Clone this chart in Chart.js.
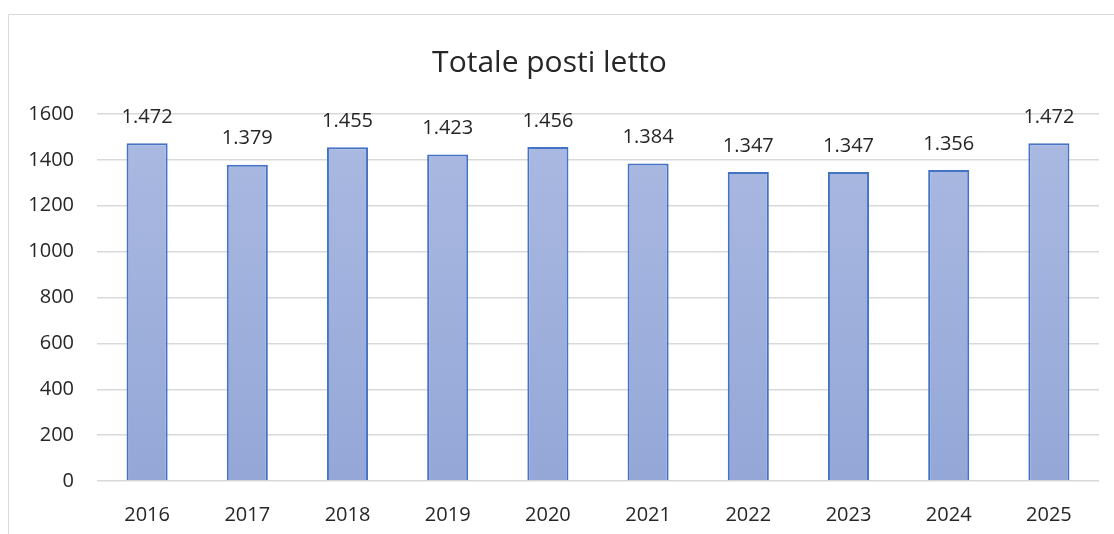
<!DOCTYPE html>
<html>
<head>
<meta charset="utf-8">
<script src="https://cdn.jsdelivr.net/npm/chart.js@4"></script>
<style>
  html, body { margin: 0; padding: 0; background: #fff; }
  #wrap { position: relative; width: 1114px; height: 534px; }
</style>
</head>
<body>
<div id="wrap"><canvas id="bedsChart" width="1114" height="534"></canvas></div>
<script>
const years = ["2016", "2017", "2018", "2019", "2020", "2021", "2022", "2023", "2024", "2025"];
const beds = [1472, 1379, 1455, 1423, 1456, 1384, 1347, 1347, 1356, 1472];
const yTicks = [0, 200, 400, 600, 800, 1000, 1200, 1400, 1600];

const FONT = "'Open Sans', 'Liberation Sans', sans-serif";

function fmtIt(v) {
  return String(v).replace(/\B(?=(\d{3})+(?!\d))/g, ".");
}

// light grey frame round the chart (top and left only are visible)
const framePlugin = {
  id: "frame",
  beforeDraw(chart) {
    const ctx = chart.ctx;
    ctx.save();
    ctx.strokeStyle = "#d9d9d9";
    ctx.lineWidth = 1;
    ctx.beginPath();
    ctx.moveTo(8.5, 534);
    ctx.lineTo(8.5, 14.5);
    ctx.lineTo(1114, 14.5);
    ctx.stroke();
    ctx.restore();
  }
};

// value labels above the bars
const valueLabels = {
  id: "valueLabels",
  afterDatasetsDraw(chart) {
    const ctx = chart.ctx;
    const meta = chart.getDatasetMeta(0);
    ctx.save();
    ctx.font = "20px " + FONT;
    ctx.fillStyle = "#262626";
    ctx.textAlign = "center";
    ctx.textBaseline = "middle";
    meta.data.forEach((bar, i) => {
      ctx.fillText(fmtIt(beds[i]), bar.x, bar.y - 26);
    });
    ctx.restore();
  }
};

const canvas = document.getElementById("bedsChart");

new Chart(canvas, {
  type: "bar",
  data: {
    labels: years,
    datasets: [{
      label: "Totale posti letto",
      data: beds,
      backgroundColor: (c) => {
        const area = c.chart.chartArea;
        if (!area) return "#a3b3de";
        const g = c.chart.ctx.createLinearGradient(0, area.top, 0, area.bottom);
        g.addColorStop(0, "#abbae2");
        g.addColorStop(1, "#94a7d7");
        return g;
      },
      borderColor: "#4472c4",
      borderWidth: 2,
      borderSkipped: "bottom",
      categoryPercentage: 1,
      barPercentage: 0.41
    }]
  },
  options: {
    responsive: false,
    animation: false,
    layout: { padding: { left: 0, right: 15, top: 0, bottom: 0 } },
    plugins: {
      legend: { display: false },
      tooltip: { enabled: false },
      title: {
        display: true,
        text: "Totale posti letto",
        color: "#262626",
        font: { family: FONT, size: 30, weight: "normal" },
        padding: { top: 45, bottom: 33 }
      }
    },
    scales: {
      x: {
        grid: { display: false },
        border: { display: false },
        ticks: {
          color: "#262626",
          font: { family: FONT, size: 20 },
          padding: 14
        },
        afterFit(scale) { scale.height = 53; }
      },
      y: {
        min: 0,
        max: 1600,
        afterBuildTicks(scale) { scale.ticks = yTicks.map(v => ({ value: v })); },
        grid: { color: "#d9d9d9", lineWidth: 1.5, drawTicks: false },
        border: { display: false },
        ticks: {
          color: "#262626",
          font: { family: FONT, size: 20 },
          padding: 23,
          callback: (v) => String(v)
        },
        afterFit(scale) { scale.width = 97; }
      }
    }
  },
  plugins: [framePlugin, valueLabels]
});
</script>
</body>
</html>
